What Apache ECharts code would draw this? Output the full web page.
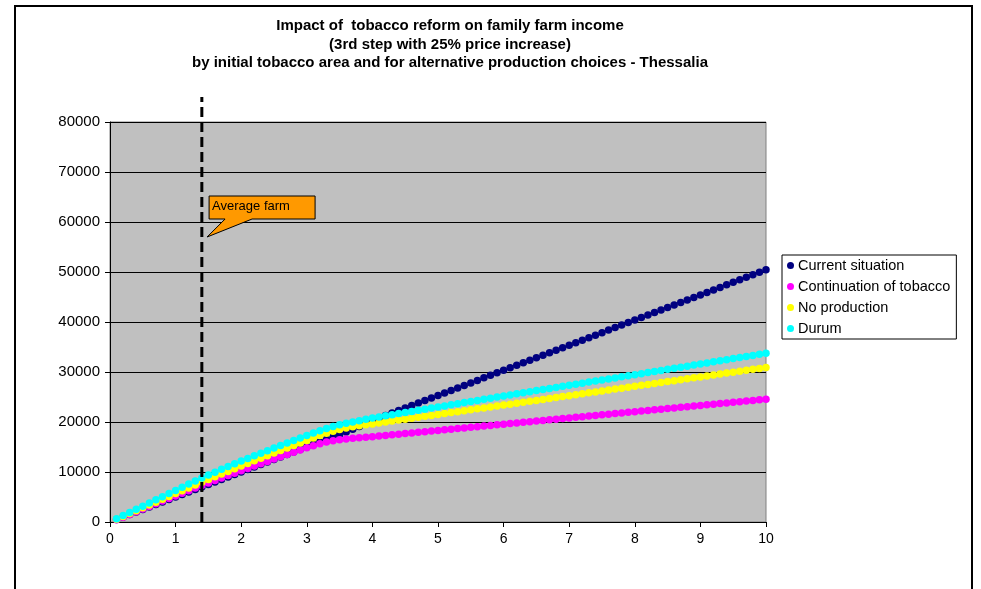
<!DOCTYPE html>
<html>
<head>
<meta charset="utf-8">
<script src="https://cdn.jsdelivr.net/npm/echarts@6/dist/echarts.min.js"></script>
<style>
html,body{margin:0;padding:0;background:#fff;}
#chart{width:981px;height:589px;}
</style>
</head>
<body>
<div id="chart"></div>
<script>
// Initial tobacco area (x values)
var areas = [0.1,0.2,0.3,0.4,0.5,0.6,0.7,0.8,0.9,1.0,
  1.1,1.2,1.3,1.4,1.5,1.6,1.7,1.8,1.9,2.0,
  2.1,2.2,2.3,2.4,2.5,2.6,2.7,2.8,2.9,3.0,
  3.1,3.2,3.3,3.4,3.5,3.6,3.7,3.8,3.9,4.0,
  4.1,4.2,4.3,4.4,4.5,4.6,4.7,4.8,4.9,5.0,
  5.1,5.2,5.3,5.4,5.5,5.6,5.7,5.8,5.9,6.0,
  6.1,6.2,6.3,6.4,6.5,6.6,6.7,6.8,6.9,7.0,
  7.1,7.2,7.3,7.4,7.5,7.6,7.7,7.8,7.9,8.0,
  8.1,8.2,8.3,8.4,8.5,8.6,8.7,8.8,8.9,9.0,
  9.1,9.2,9.3,9.4,9.5,9.6,9.7,9.8,9.9,10.0];

var currentSituation = [480,980,1480,1980,2480,2980,3480,3980,4480,4980,
  5480,5980,6480,6980,7490,7990,8490,9000,9500,10000,
  10510,11010,11510,12010,12510,13010,13510,14010,14510,15010,
  15500,16000,16500,17000,17500,18000,18550,19100,19650,20200,
  20750,21300,21800,22300,22800,23300,23800,24310,24810,25310,
  25810,26310,26820,27320,27820,28320,28830,29330,29830,30330,
  30840,31340,31840,32340,32850,33350,33850,34360,34860,35360,
  35860,36370,36870,37370,37870,38380,38880,39380,39890,40390,
  40890,41390,41900,42400,42900,43400,43910,44410,44910,45420,
  45920,46420,46920,47430,47930,48430,48940,49440,49940,50440];

var continuationTobacco = [450,950,1500,2050,2600,3100,3650,4200,4700,5200,
  5750,6250,6800,7300,7800,8300,8800,9300,9750,10250,
  10700,11200,11650,12100,12600,13050,13500,13950,14400,14850,
  15250,15650,16000,16250,16450,16600,16750,16850,16950,17050,
  17180,17300,17430,17550,17680,17800,17930,18050,18180,18300,
  18430,18550,18680,18800,18930,19050,19180,19300,19430,19550,
  19680,19800,19930,20050,20180,20300,20430,20550,20680,20800,
  20930,21050,21180,21300,21430,21550,21680,21800,21930,22050,
  22180,22300,22430,22550,22680,22800,22930,23050,23180,23300,
  23430,23550,23680,23800,23930,24050,24180,24300,24430,24550];

var noProduction = [550,1120,1690,2260,2830,3400,3970,4540,5110,5680,
  6250,6820,7390,7960,8500,9040,9580,10120,10660,11200,
  11720,12240,12760,13270,13780,14290,14800,15300,15800,16300,
  16800,17300,17750,18150,18500,18800,19050,19250,19450,19620,
  19810,20000,20190,20380,20560,20750,20940,21130,21320,21500,
  21690,21880,22070,22260,22440,22630,22820,23010,23200,23380,
  23570,23760,23950,24140,24320,24510,24700,24890,25080,25260,
  25450,25640,25830,26020,26200,26390,26580,26770,26960,27140,
  27330,27520,27710,27900,28080,28270,28460,28650,28840,29020,
  29210,29400,29590,29780,29960,30150,30340,30530,30720,30900];

var durum = [650,1280,1910,2540,3170,3800,4430,5060,5690,6320,
  6950,7580,8200,8820,9400,9970,10540,11100,11660,12200,
  12720,13240,13760,14270,14780,15290,15800,16300,16800,17300,
  17800,18250,18700,19100,19450,19750,20000,20250,20530,20800,
  21020,21240,21460,21680,21900,22120,22340,22560,22780,23000,
  23220,23440,23660,23880,24100,24320,24540,24760,24980,25200,
  25420,25630,25850,26060,26280,26490,26710,26920,27140,27350,
  27560,27770,27980,28190,28400,28610,28820,29030,29240,29450,
  29670,29880,30100,30310,30530,30740,30960,31170,31390,31600,
  31820,32030,32250,32460,32680,32890,33110,33320,33540,33750];

var seriesNames = ['Current situation','Continuation of tobacco','No production','Durum'];
var seriesColors = ['#000080','#FF00FF','#FFFF00','#00FFFF'];
var seriesValues = [currentSituation, continuationTobacco, noProduction, durum];

var averageFarmArea = 1.4;
var dashTop = 85000;
var calloutTip = [1.48, 57000];
var calloutText = 'Average farm';

var titleLines = ['Impact of  tobacco reform on family farm income',
  '(3rd step with 25% price increase)',
  'by initial tobacco area and for alternative production choices - Thessalia'];

function pairs(vals){
  return vals.map(function(v,i){ return [areas[i], v]; });
}

var FONT = 'Liberation Sans, Arial, sans-serif';
var chart = echarts.init(document.getElementById('chart'), null, {renderer:'canvas'});

var series = seriesNames.map(function(n,i){
  return {
    name: n, type: 'scatter', data: pairs(seriesValues[i]),
    symbol: 'circle', symbolSize: 7.5,
    itemStyle: {color: seriesColors[i], opacity: 1},
    emphasis: {disabled: true}
  };
});
series.push({
  name: 'avg', type: 'line', clip: false, symbol: 'none', silent: true,
  data: [[averageFarmArea, 0],[averageFarmArea, dashTop]],
  lineStyle: {color: '#000', width: 3, type: [10, 5]}, z: 5
});

chart.setOption({
  animation: false,
  backgroundColor: '#fff',
  title: {
    text: titleLines.join('\n'),
    left: 445, top: 12, textAlign: 'center',
    textStyle: {fontFamily: FONT, fontSize: 15, fontWeight: 'bold', color: '#000', lineHeight: 18.5}
  },
  legend: {
    data: seriesNames.map(function(n){ return {name: n, icon: 'circle'}; }),
    orient: 'vertical', left: 782, top: 255,
    itemWidth: 7, itemHeight: 7, itemGap: 6,
    padding: [3, 6, 3, 5],
    backgroundColor: '#fff', borderColor: '#000', borderWidth: 1, borderRadius: 0,
    textStyle: {fontFamily: FONT, fontSize: 14.5, color: '#000', lineHeight: 15, padding: [0,0,0,-1]}
  },
  grid: {
    left: 110, right: 215, top: 122, bottom: 67,
    show: true, backgroundColor: '#C0C0C0', borderColor: '#808080', borderWidth: 1
  },
  xAxis: {
    type: 'value', min: 0, max: 10, interval: 1,
    axisLine: {show: true, onZero: false, lineStyle: {color: '#000', width: 1}},
    axisTick: {show: true, inside: false, length: 5, lineStyle: {color: '#000'}},
    axisLabel: {fontFamily: FONT, fontSize: 14, color: '#000', margin: 10},
    splitLine: {show: false}
  },
  yAxis: {
    type: 'value', min: 0, max: 80000, interval: 10000,
    axisLine: {show: true, lineStyle: {color: '#000', width: 1}},
    axisTick: {show: true, inside: false, length: 5, lineStyle: {color: '#000'}},
    axisLabel: {fontFamily: FONT, fontSize: 15, color: '#000', margin: 10,
      formatter: function(v){ return String(v); }},
    splitLine: {show: true, lineStyle: {color: '#000', width: 1}}
  },
  series: series
});

// Callout anchored to data coordinates
var tip = chart.convertToPixel({gridIndex: 0}, calloutTip);
var x0 = tip[0] + 2, y0 = tip[1] - 41, x1 = x0 + 106, y1 = y0 + 23;
chart.setOption({
  graphic: [
    {type: 'rect', shape: {x: 15, y: 6, width: 957, height: 700},
     style: {fill: 'none', stroke: '#000', lineWidth: 2}, silent: true, z: 100},
    {type: 'polygon', z: 100, silent: true,
     shape: {points: [[x0,y0],[x1,y0],[x1,y1],[tip[0]+45,y1],[tip[0],tip[1]],[tip[0]+18,y1],[x0,y1]]},
     style: {fill: '#FF9900', stroke: '#000', lineWidth: 1}},
    {type: 'text', z: 101, silent: true, x: x0 + 3, y: y0 + 4,
     style: {text: calloutText, fontFamily: FONT, fontSize: 13, fill: '#000'}}
  ]
});
</script>
</body>
</html>
